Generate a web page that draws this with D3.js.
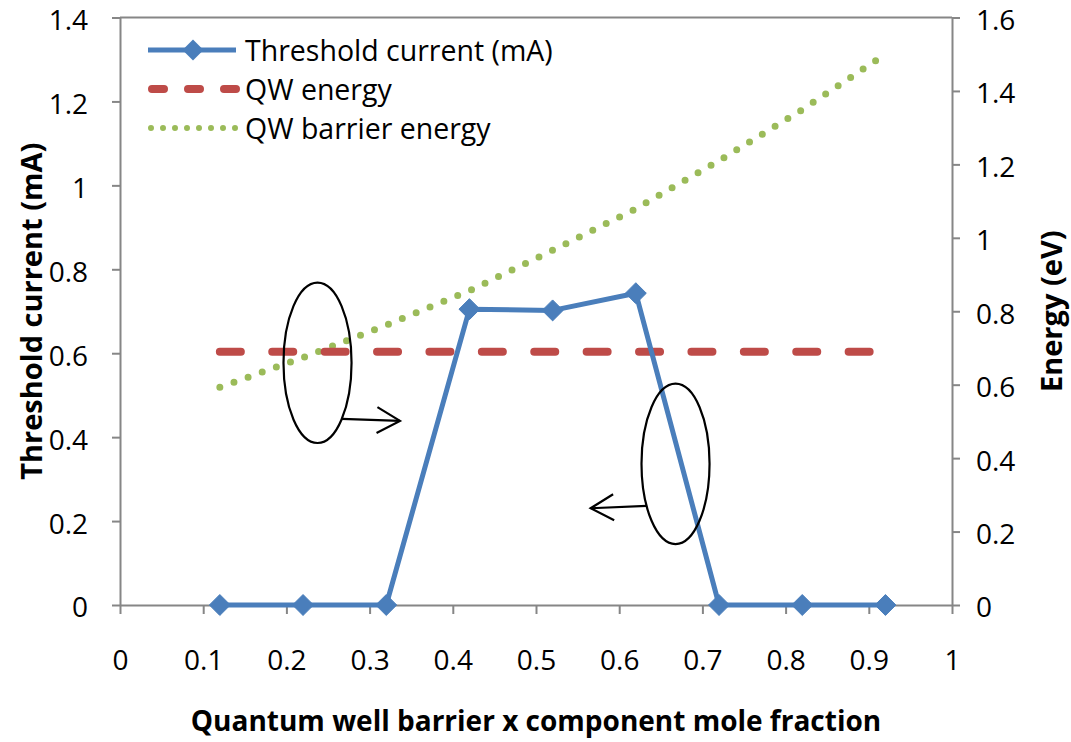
<!DOCTYPE html>
<html>
<head>
<meta charset="utf-8">
<script src="https://cdn.jsdelivr.net/npm/d3@7"></script>
<style>
  html, body { margin: 0; padding: 0; background: #fff; }
  svg { display: block; }
  text { font-family: "Open Sans", "Liberation Sans", sans-serif; fill: #000; }
</style>
</head>
<body>
<svg id="chart" width="1071" height="742"></svg>
<script>
// Barrier mole fraction (x) for each simulated structure
const moleFraction = [0.12, 0.22, 0.32, 0.42, 0.52, 0.62, 0.72, 0.82, 0.92];
// Threshold current, mA (left axis)
const thresholdCurrent = [0, 0, 0, 0.705, 0.702, 0.743, 0, 0, 0];
// Quantum well transition energy, eV (right axis)
const qwEnergy = [0.69, 0.69, 0.69, 0.69, 0.69, 0.69, 0.69, 0.69, 0.69];
// Barrier energy, eV (right axis)
const barrierEnergy = [0.593, 0.674, 0.762, 0.856, 0.966, 1.079, 1.21, 1.349, 1.50];

const xTicks = [0, 0.1, 0.2, 0.3, 0.4, 0.5, 0.6, 0.7, 0.8, 0.9, 1];
const leftTicks = [0, 0.2, 0.4, 0.6, 0.8, 1, 1.2, 1.4];
const rightTicks = [0, 0.2, 0.4, 0.6, 0.8, 1, 1.2, 1.4, 1.6];

const seriesNames = ["Threshold current (mA)", "QW energy", "QW barrier energy"];
const xTitle = "Quantum well barrier x component mole fraction";
const yLeftTitle = "Threshold current (mA)";
const yRightTitle = "Energy (eV)";

// Hand-drawn call-outs: ellipse groups a set of curves, arrow points at their axis
// (ellipse centre in x / left-axis units, radii in the same units)
const callouts = [
  { cx: 0.2374, cy: 0.577, rx: 0.0409, ry: 0.191, x1: 0.2665, y1: 0.4436, x2: 0.3365, y2: 0.4388 },
  { cx: 0.6677, cy: 0.3363, rx: 0.0409, ry: 0.191, x1: 0.633, y1: 0.2361, x2: 0.5657, y2: 0.2306 }
];

const C = { blue: "#4a7ebb", red: "#be4b48", green: "#9bbb59", axis: "#868686" };

const svg = d3.select("#chart");
const plot = { left: 120, right: 952, top: 17.5, bottom: 605 };

const x = d3.scaleLinear().domain([0, 1]).range([plot.left, plot.right]);
const yL = d3.scaleLinear().domain([0, 1.4]).range([plot.bottom, plot.top]);
const yR = d3.scaleLinear().domain([0, 1.6]).range([plot.bottom, plot.top]);

const fmt = d => String(+d.toFixed(1));
const FS = 28;

function styleAxis(g) {
  g.select(".domain").attr("stroke", C.axis).attr("stroke-width", 2);
  g.selectAll(".tick line").attr("stroke", C.axis).attr("stroke-width", 2);
  g.selectAll(".tick text").attr("font-size", FS).attr("font-family", "'Open Sans', sans-serif").attr("fill", "#000");
}

// top border of the plot area
svg.append("line")
  .attr("x1", x(0)).attr("x2", x(1))
  .attr("y1", yL(1.4)).attr("y2", yL(1.4))
  .attr("stroke", C.axis).attr("stroke-width", 2);

svg.append("g")
  .attr("transform", `translate(0,${plot.bottom})`)
  .call(d3.axisBottom(x).tickValues(xTicks).tickFormat(fmt).tickSize(9).tickSizeOuter(0).tickPadding(36))
  .call(styleAxis);

svg.append("g")
  .attr("transform", `translate(${plot.left},0)`)
  .call(d3.axisLeft(yL).tickValues(leftTicks).tickFormat(fmt).tickSize(8).tickSizeOuter(0).tickPadding(24))
  .call(styleAxis)
  .selectAll(".tick text").attr("transform", "translate(0,3)");

svg.append("g")
  .attr("transform", `translate(${plot.right},0)`)
  .call(d3.axisRight(yR).tickValues(rightTicks).tickFormat(fmt).tickSize(8).tickSizeOuter(0).tickPadding(16))
  .call(styleAxis)
  .selectAll(".tick text").attr("transform", "translate(0,3)");

// axis titles
svg.append("text")
  .attr("x", (plot.left + plot.right) / 2).attr("y", 720)
  .attr("text-anchor", "middle").attr("dominant-baseline", "central")
  .attr("font-size", 28).attr("font-weight", "bold")
  .text(xTitle);

svg.append("text")
  .attr("transform", `translate(30,${(plot.top + plot.bottom) / 2}) rotate(-90)`)
  .attr("text-anchor", "middle").attr("dominant-baseline", "central")
  .attr("font-size", 29).attr("font-weight", "bold")
  .text(yLeftTitle);

svg.append("text")
  .attr("transform", `translate(1050,${(plot.top + plot.bottom) / 2}) rotate(-90)`)
  .attr("text-anchor", "middle").attr("dominant-baseline", "central")
  .attr("font-size", 29).attr("font-weight", "bold")
  .text(yRightTitle);

// series
const rows = moleFraction.map((m, i) => ({ m, cur: thresholdCurrent[i], qw: qwEnergy[i], bar: barrierEnergy[i] }));

svg.append("path").datum(rows)
  .attr("fill", "none").attr("stroke", C.green).attr("stroke-width", 7)
  .attr("stroke-linecap", "round").attr("stroke-dasharray", "0 15")
  .attr("d", d3.line().x(d => x(d.m)).y(d => yR(d.bar)));

svg.append("path").datum(rows)
  .attr("fill", "none").attr("stroke", C.red).attr("stroke-width", 8)
  .attr("stroke-linecap", "round").attr("stroke-dasharray", "21 31.4")
  .attr("d", d3.line().x(d => x(d.m)).y(d => yR(d.qw)));

svg.append("path").datum(rows)
  .attr("fill", "none").attr("stroke", C.blue).attr("stroke-width", 5)
  .attr("stroke-linejoin", "round")
  .attr("d", d3.line().x(d => x(d.m)).y(d => yL(d.cur)));

const diamond = d3.symbol().type(d3.symbolDiamond2).size(280);
svg.append("g").selectAll("path").data(rows).join("path")
  .attr("transform", d => `translate(${x(d.m)},${yL(d.cur)})`)
  .attr("d", diamond).attr("fill", C.blue).attr("stroke", C.blue).attr("stroke-width", 1);

// call-outs
const co = svg.append("g").attr("fill", "none").attr("stroke", "#000").attr("stroke-width", 2.2);
callouts.forEach(c => {
  co.append("ellipse")
    .attr("cx", x(c.cx)).attr("cy", yL(c.cy))
    .attr("rx", x(c.cx + c.rx) - x(c.cx)).attr("ry", yL(c.cy) - yL(c.cy + c.ry));
  const p1 = [x(c.x1), yL(c.y1)], p2 = [x(c.x2), yL(c.y2)];
  co.append("line").attr("x1", p1[0]).attr("y1", p1[1]).attr("x2", p2[0]).attr("y2", p2[1]);
  const a = Math.atan2(p2[1] - p1[1], p2[0] - p1[0]);
  const back = 23, half = 13;
  const bx = p2[0] - back * Math.cos(a), by = p2[1] - back * Math.sin(a);
  const nx = -Math.sin(a) * half, ny = Math.cos(a) * half;
  co.append("path").attr("d", `M${bx + nx},${by + ny}L${p2[0]},${p2[1]}L${bx - nx},${by - ny}`);
});

// legend
const lg = svg.append("g");
const legY = [50, 89, 128];
const lx1 = 148, lx2 = 236;
lg.append("line").attr("x1", lx1).attr("x2", lx2).attr("y1", legY[0]).attr("y2", legY[0])
  .attr("stroke", C.blue).attr("stroke-width", 5);
lg.append("path").attr("transform", `translate(${(lx1 + lx2) / 2 + 1},${legY[0]})`)
  .attr("d", diamond).attr("fill", C.blue);
lg.append("line").attr("x1", lx1 + 4).attr("x2", lx2).attr("y1", legY[1]).attr("y2", legY[1])
  .attr("stroke", C.red).attr("stroke-width", 8).attr("stroke-linecap", "round").attr("stroke-dasharray", "12 24");
lg.append("line").attr("x1", lx1 + 3).attr("x2", lx2).attr("y1", legY[2]).attr("y2", legY[2])
  .attr("stroke", C.green).attr("stroke-width", 6).attr("stroke-linecap", "round").attr("stroke-dasharray", "0 12");
seriesNames.forEach((s, i) => {
  lg.append("text").attr("x", 245).attr("y", legY[i]).attr("dominant-baseline", "central")
    .attr("font-size", 28.5).text(s);
});
</script>
</body>
</html>
